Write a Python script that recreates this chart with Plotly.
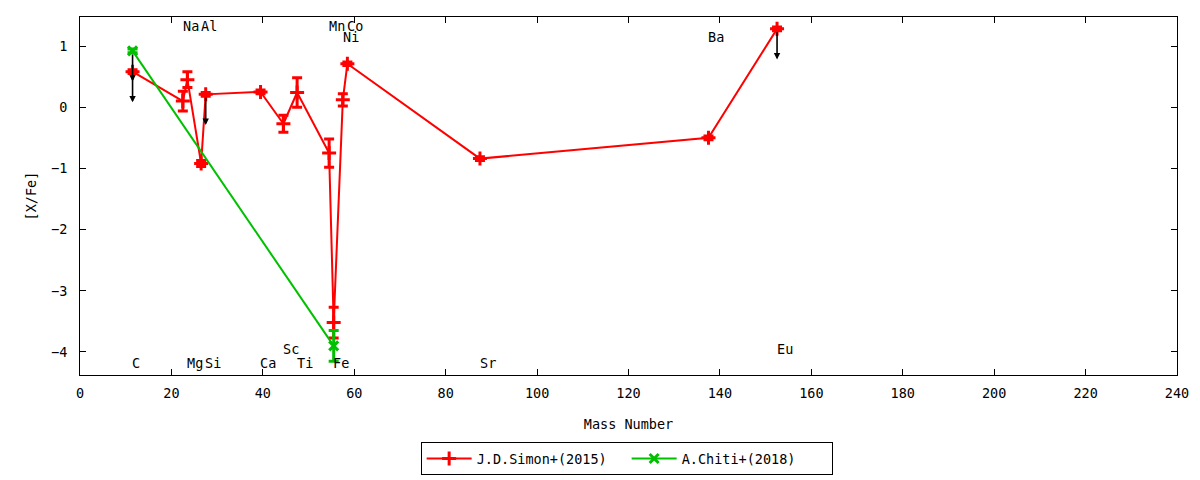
import plotly.graph_objects as go

# J.D.Simon+(2015) abundances, plotted at mass number - 0.5
simon_x = [11.5, 22.5, 23.5, 26.5, 27.5, 39.5, 44.5, 47.5, 54.5, 55.5, 57.5, 58.5, 87.5, 137.5, 152.5]
simon_y = [0.58, 0.10, 0.45, -0.92, 0.21, 0.25, -0.27, 0.24, -0.75, -3.52, 0.12, 0.71, -0.84, -0.50, 1.28]
simon_err = [0.03, 0.16, 0.13, 0.05, 0.03, 0.03, 0.14, 0.24, 0.23, 0.25, 0.10, 0.03, 0.03, 0.03, 0.03]
simon_upper = [True, False, False, False, True, False, False, False, False, False, False, False, False, False, True]

# A.Chiti+(2018)
chiti_x = [11.5, 55.5]
chiti_y = [0.92, -3.90]
chiti_err = [0.03, 0.25]
chiti_upper = [True, False]

# element labels
label_elem = ["C", "Na", "Mg", "Al", "Si", "Ca", "Sc", "Ti", "Mn", "Fe", "Co", "Ni", "Sr", "Ba", "Eu"]
label_mass = [12, 23, 24, 27, 28, 40, 45, 48, 55, 56, 59, 58, 88, 138, 153]
label_y = [-4.18, 1.32, -4.18, 1.32, -4.18, -4.18, -3.95, -4.18, 1.32, -4.18, 1.32, 1.14, -4.18, 1.14, -3.95]

limit_len = 0.5
font = "DejaVu Sans Mono"
fsize = 13.5

fig = go.Figure()

fig.add_trace(go.Scatter(
    x=simon_x, y=simon_y, mode="lines+markers", name="J.D.Simon+(2015)",
    line=dict(color="#ff0000", width=2),
    marker=dict(symbol="cross-thin", size=10, line=dict(color="#ff0000", width=3)),
    error_y=dict(type="data", array=simon_err, color="#ff0000", thickness=3, width=5),
))
fig.add_trace(go.Scatter(
    x=chiti_x, y=chiti_y, mode="lines+markers", name="A.Chiti+(2018)",
    line=dict(color="#00c000", width=2),
    marker=dict(symbol="x-thin", size=9, line=dict(color="#00c000", width=3)),
    error_y=dict(type="data", array=chiti_err, color="#00c000", thickness=3, width=5),
))

# upper limit arrows
for xs, ys, ups in [(simon_x, simon_y, simon_upper), (chiti_x, chiti_y, chiti_upper)]:
    for x, y, up in zip(xs, ys, ups):
        if up:
            fig.add_annotation(x=x, y=y - limit_len, ax=x, ay=y, xref="x", yref="y",
                               axref="x", ayref="y", showarrow=True, text="",
                               arrowhead=2, arrowsize=0.8, arrowwidth=1.6,
                               arrowcolor="black", standoff=0, startstandoff=2)

for el, m, ly in zip(label_elem, label_mass, label_y):
    fig.add_annotation(x=m - 1, y=ly, text=el, showarrow=False, xanchor="left",
                       yanchor="middle", font=dict(family=font, size=fsize, color="black"))

axis_style = dict(showline=True, linecolor="black", linewidth=1, mirror="ticks",
                  ticks="inside", ticklen=6, tickcolor="black", showgrid=False,
                  zeroline=False, automargin=False,
                  tickfont=dict(family=font, size=fsize, color="black"))

fig.update_xaxes(range=[0, 240], dtick=20, ticklabelstandoff=6,
                 title=dict(text="Mass Number", standoff=19, font=dict(family=font, size=fsize)),
                 **axis_style)
fig.update_yaxes(range=[-4.376, 1.474], dtick=1, ticklabelstandoff=9,
                 title=dict(text="[X/Fe]", standoff=11, font=dict(family=font, size=fsize)),
                 **axis_style)

# page body has an 8px margin, so the figure is shrunk by that much
fig.update_layout(
    width=1192, height=472,
    margin=dict(l=72, r=23, t=9, b=105, autoexpand=False),
    plot_bgcolor="white", paper_bgcolor="white",
    font=dict(family=font, size=fsize, color="black"),
    legend=dict(orientation="h", x=0.519, xanchor="center", xref="container",
                y=0.01, yanchor="bottom", yref="container",
                itemwidth=45, entrywidth=145,
                bordercolor="black", borderwidth=1, font=dict(family=font, size=fsize)),
)

fig.write_html("out.html")
